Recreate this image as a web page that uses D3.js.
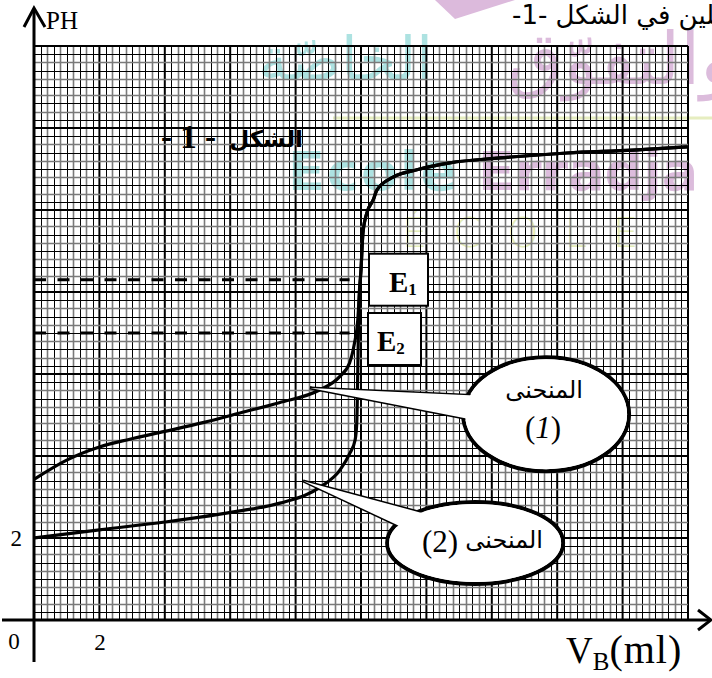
<!DOCTYPE html>
<html>
<head>
<meta charset="utf-8">
<script src="https://cdn.jsdelivr.net/npm/d3@7"></script>
<style>
  html, body { margin: 0; padding: 0; background: #fff; }
  svg { display: block; }
  text { font-family: "Liberation Serif", "Times New Roman", serif; }
  .ar { font-family: "DejaVu Sans", sans-serif; }
</style>
</head>
<body>
<svg id="chart" width="712" height="678"></svg>
<script>
// Titration curves: added base volume V_B (ml) against pH.
// Curve (1): weak acid; curve (2): strong acid. Both share the basic branch.
const curve1Volume = [0, 1, 2, 2.93, 4, 5.2, 6.3, 7.5, 8.73, 9.34, 9.65, 9.8, 9.9,
  9.94, 10.0, 10.06, 10.18, 10.37, 10.49, 10.98, 11.71, 12.72, 14.25, 16.3, 18.32, 19.97];
const curve1PH = [3.43, 3.9, 4.22, 4.41, 4.6, 4.82, 5.05, 5.3, 5.61, 5.93, 6.27, 6.75, 7.3,
  7.8, 8.54, 9.44, 9.93, 10.24, 10.49, 10.8, 10.98, 11.15, 11.27, 11.39, 11.46, 11.54];

const curve2Volume = [0, 2, 4, 6.3, 7.52, 8.75, 9.36, 9.66, 9.82, 9.87, 9.9, 9.92,
  9.94, 10.0, 10.06, 10.18, 10.37, 10.49, 10.98, 11.71, 12.72, 14.25, 16.3, 18.32, 19.97];
const curve2PH = [2.0, 2.2, 2.39, 2.66, 2.85, 3.24, 3.66, 4.07, 4.39, 4.8, 6.0, 7.0,
  7.8, 8.54, 9.44, 9.93, 10.24, 10.49, 10.8, 10.98, 11.15, 11.27, 11.39, 11.46, 11.54];

// Axis ticks
const xTickValues = [2];
const yTickValues = [2];

// Equivalence points
const equivalenceNames = ["1", "2"];
const equivalencePH = [8.3, 7];
const equivalenceVolume = [9.65, 9.65];

// Callout labels
const calloutWord = "المنحنى";
const calloutNumbers = ["1", "2"];

const svg = d3.select("#chart");
const x = d3.scaleLinear().domain([0, 20]).range([34, 688]);
const y = d3.scaleLinear().domain([0, 14]).range([620, 46]);

// ---- Watermark (behind the graph paper) ----
const wm = svg.append("g").attr("class", "watermark");
wm.append("path").attr("d", "M435,0 L455,19 L515,0 Z").attr("fill", "#dcbadc");
wm.append("text").attr("class", "ar").attr("x", 735).attr("y", 84)
  .attr("direction", "rtl").attr("text-anchor", "start")
  .attr("font-size", 72).attr("fill", "#dcbcdc").text("والتفوّق");
wm.append("text").attr("class", "ar").attr("x", 433).attr("y", 80)
  .attr("direction", "rtl").attr("text-anchor", "start")
  .attr("font-size", 60).attr("fill", "#ade2e1").text("الخاصّة");
wm.append("line").attr("x1", 333).attr("x2", 712).attr("y1", 118).attr("y2", 118)
  .attr("stroke", "#e6edc0").attr("stroke-width", 3);
wm.append("text").attr("x", 288).attr("y", 190)
  .style("font-family", "'DejaVu Sans', sans-serif").attr("font-weight", "bold")
  .attr("font-size", 54).attr("letter-spacing", 2).attr("fill", "#ade2e1").text("Ecole");
wm.append("text").attr("x", 478).attr("y", 190)
  .style("font-family", "'DejaVu Sans', sans-serif").attr("font-weight", "bold")
  .attr("font-size", 54).attr("fill", "#dcbcdc").text("Erradja");
wm.append("text").attr("x", 402).attr("y", 247)
  .style("font-family", "'DejaVu Sans', sans-serif").attr("font-weight", 200)
  .attr("font-size", 40).attr("letter-spacing", 26).attr("fill", "#e4ecb8").text("ÉCOLE");

// ---- Graph paper: 1 minor cell = 0.2 ml by 0.2 pH, major every 10 cells ----
const grid = svg.append("g").attr("class", "grid");
const xSteps = d3.range(0, 101);
const ySteps = d3.range(0, 71);
const snap = v => Math.round(v) + 0.5;
const minorColor = i => (i % 2 === 1 ? "#000" : "#7a7a7a");
const minorWidth = i => (i % 10 === 0 ? 2 : i % 2 === 1 ? 1 : 1.6);
grid.selectAll("line.vx").data(xSteps).join("line")
  .attr("x1", i => i % 10 === 0 ? x(i * 0.2) : snap(x(i * 0.2)))
  .attr("x2", i => i % 10 === 0 ? x(i * 0.2) : snap(x(i * 0.2)))
  .attr("y1", y(0)).attr("y2", y(14))
  .attr("stroke", i => i % 10 === 0 ? "#000" : minorColor(i))
  .attr("stroke-width", minorWidth);
grid.selectAll("line.hy").data(ySteps).join("line")
  .attr("y1", i => i % 10 === 0 ? y(i * 0.2) : snap(y(i * 0.2)))
  .attr("y2", i => i % 10 === 0 ? y(i * 0.2) : snap(y(i * 0.2)))
  .attr("x1", x(0)).attr("x2", x(20))
  .attr("stroke", i => i % 10 === 0 ? "#000" : minorColor(i))
  .attr("stroke-width", minorWidth);

// ---- Axes with arrow heads ----
const axes = svg.append("g").attr("stroke", "#000").attr("stroke-width", 3).attr("fill", "none");
axes.append("line").attr("x1", x(0)).attr("x2", x(0)).attr("y1", y(0) + 42).attr("y2", 9);
axes.append("polyline").attr("points", `${x(0) - 10},27 ${x(0)},8 ${x(0) + 11},27`);
axes.append("line").attr("x1", 2).attr("x2", 710).attr("y1", y(0)).attr("y2", y(0));
axes.append("polyline").attr("points", `698,${y(0) - 10} 711,${y(0)} 698,${y(0) + 10}`);

// Axis tick labels via d3 axes (no tick marks, labels only)
const xAxis = svg.append("g").attr("transform", `translate(0,${y(0)})`)
  .call(d3.axisBottom(x).tickValues(xTickValues).tickSize(0).tickPadding(14));
xAxis.select(".domain").remove();
xAxis.selectAll("text").attr("font-size", 23).attr("font-family", "Liberation Serif, serif")
  .attr("fill", "#000");
const yAxis = svg.append("g").attr("transform", `translate(${x(0)},0)`)
  .call(d3.axisLeft(y).tickValues(yTickValues).tickSize(0).tickPadding(12));
yAxis.select(".domain").remove();
yAxis.selectAll("text").attr("font-size", 23).attr("font-family", "Liberation Serif, serif")
  .attr("fill", "#000");
svg.append("text").attr("x", x(0) - 20).attr("y", y(0) + 29).attr("text-anchor", "middle")
  .attr("font-size", 23).text("0");

svg.append("text").attr("x", x(0) + 12).attr("y", 29).attr("font-size", 25).text("PH");
const vLabel = svg.append("text").attr("x", 566).attr("y", 663).attr("font-size", 37);
vLabel.append("tspan").text("V");
vLabel.append("tspan").attr("font-size", 25).attr("dy", 7).text("B");
vLabel.append("tspan").attr("dy", -7).attr("font-size", 40).attr("letter-spacing", 1).text("(ml)");

// ---- Figure caption inside the grid ----
svg.append("text").attr("x", 161).attr("y", 148).attr("font-size", 33).attr("font-weight", "bold")
  .attr("xml:space", "preserve").style("white-space", "pre").text("- 1 -");
svg.append("text").attr("class", "ar").attr("x", 303).attr("y", 147)
  .attr("text-anchor", "end").attr("font-weight", "bold").attr("font-size", 23).text("الشكل");

// Text line above the figure
svg.append("text").attr("class", "ar").attr("x", 512).attr("y", 24)
  .attr("direction", "rtl").attr("text-anchor", "end")
  .attr("font-size", 26).text("الممثلين في الشكل -1-");

// ---- Equivalence dashed lines ----
svg.append("g").selectAll("line").data(equivalencePH).join("line")
  .attr("x1", x(0)).attr("x2", (d, i) => x(equivalenceVolume[i]))
  .attr("y1", d => y(d)).attr("y2", d => y(d))
  .attr("stroke", "#000").attr("stroke-width", 3).attr("stroke-dasharray", "12,11.5");

// ---- Curves ----
const line = d3.line().x(d => x(d[0])).y(d => y(d[1])).curve(d3.curveMonotoneX);
const c1 = curve1Volume.map((v, i) => [v, curve1PH[i]]);
const c2 = curve2Volume.map((v, i) => [v, curve2PH[i]]);
svg.append("g").selectAll("path").data([c1, c2]).join("path")
  .attr("d", line).attr("fill", "none").attr("stroke", "#000")
  .attr("stroke-width", 3.2).attr("stroke-linejoin", "round");

// ---- Equivalence boxes ----
const boxes = [
  { left: 369, width: 59, ph: equivalencePH[0], dy: 0, tx: 389 },
  { left: 368, width: 53, ph: equivalencePH[1], dy: 6, tx: 377 }
];
boxes.forEach((b, i) => {
  const cy = y(b.ph) + b.dy;
  svg.append("rect").attr("x", b.left).attr("y", cy - 26).attr("width", b.width).attr("height", 52)
    .attr("fill", "#fff").attr("stroke", "#000").attr("stroke-width", 2);
  const t = svg.append("text").attr("x", b.tx).attr("y", cy + 12)
    .attr("font-size", 29).attr("font-weight", "bold");
  t.append("tspan").text("E");
  t.append("tspan").attr("font-size", 17).attr("dy", 3).text(equivalenceNames[i]);
});

// ---- Speech-bubble callouts ----
const callouts = [
  { cx: x(15.66), cy: y(5.02), rx: 83, ry: 57, tip: [x(8.44), y(5.66)],
    base: [[-79, -19], [-86, 3]] },
  { cx: x(13.49), cy: y(1.88), rx: 88, ry: 41, tip: [x(8.23), y(3.39)],
    base: [[-57, -31], [-78, -18]] }
];
callouts.forEach(c => {
  const ext = p => {
    const bx = c.cx + p[0], by = c.cy + p[1];
    return [c.tip[0] + (bx - c.tip[0]) * 1.12, c.tip[1] + (by - c.tip[1]) * 1.12];
  };
  const b1 = ext(c.base[0]), b2 = ext(c.base[1]);
  const tri = `M${c.tip[0]},${c.tip[1]} L${b1[0]},${b1[1]} L${b2[0]},${b2[1]} Z`;
  const g = svg.append("g");
  g.append("ellipse").attr("cx", c.cx).attr("cy", c.cy).attr("rx", c.rx).attr("ry", c.ry)
    .attr("fill", "#fff").attr("stroke", "#000").attr("stroke-width", 4);
  g.append("path").attr("d", tri).attr("fill", "#fff").attr("stroke", "#000")
    .attr("stroke-width", 3).attr("stroke-linejoin", "miter");
  g.append("ellipse").attr("cx", c.cx).attr("cy", c.cy).attr("rx", c.rx - 2).attr("ry", c.ry - 2)
    .attr("fill", "#fff");
  g.append("path").attr("d", tri).attr("fill", "#fff");
});

// Callout (1) text
{
  const c = callouts[0];
  svg.append("text").attr("class", "ar").attr("x", c.cx - 2).attr("y", c.cy - 16)
    .attr("text-anchor", "middle").attr("font-size", 24).text(calloutWord);
  const t = svg.append("text").attr("x", c.cx - 3).attr("y", c.cy + 24)
    .attr("text-anchor", "middle").attr("font-size", 31);
  t.append("tspan").text("(");
  t.append("tspan").attr("font-style", "italic").text(calloutNumbers[0]);
  t.append("tspan").text(")");
}
// Callout (2) text
{
  const c = callouts[1];
  svg.append("text").attr("x", c.cx - 35).attr("y", c.cy + 9)
    .attr("text-anchor", "middle").attr("font-size", 31).text(`(${calloutNumbers[1]})`);
  svg.append("text").attr("class", "ar").attr("x", c.cx + 29).attr("y", c.cy + 5)
    .attr("text-anchor", "middle").attr("font-size", 24).text(calloutWord);
}
</script>
</body>
</html>
